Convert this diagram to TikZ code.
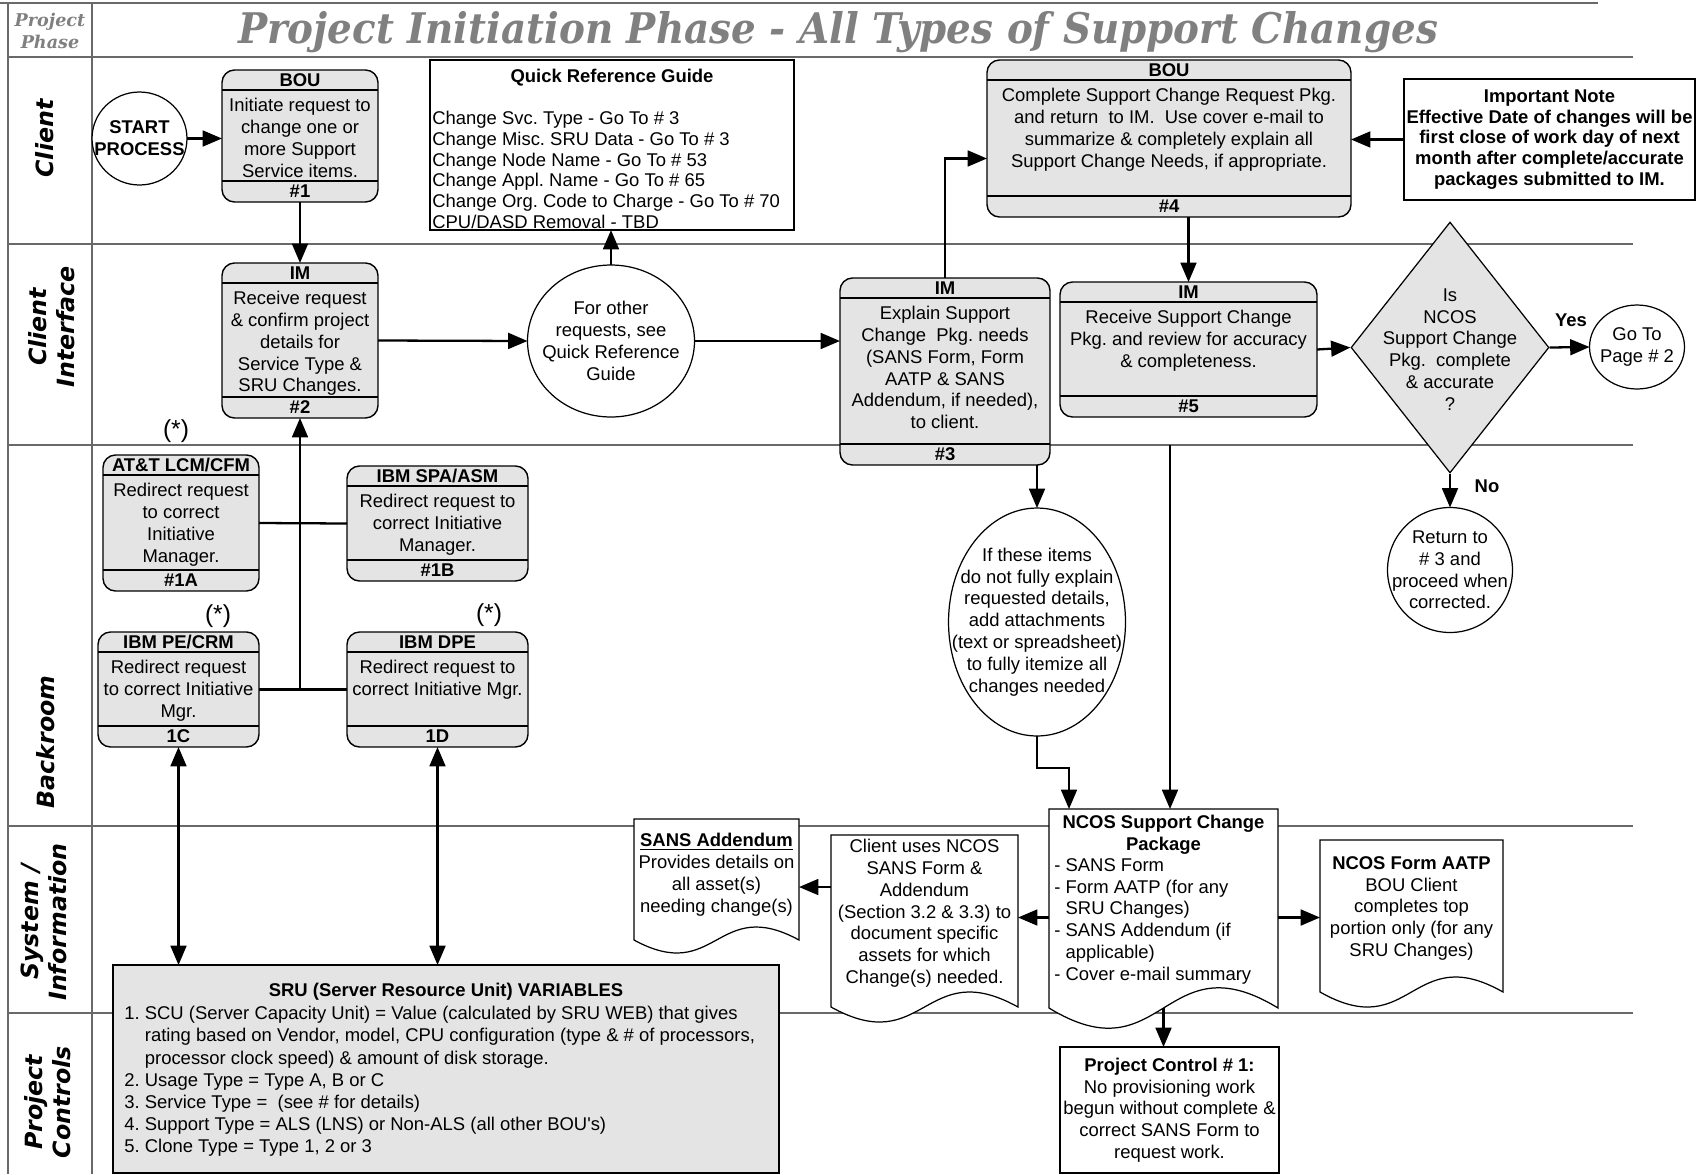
\documentclass[tikz,border=0pt]{standalone}
\usepackage{fontspec}
\setmainfont{Liberation Sans}
\newfontfamily\slabfont{DejaVu Serif}
\newfontfamily\lanefont{DejaVu Sans}[BoldFont={DejaVu Sans Bold}, ItalicFont={DejaVu Sans Oblique}, BoldItalicFont={DejaVu Sans Bold Oblique}]
\usepackage{graphicx}
\usetikzlibrary{
    positioning,
    arrows.meta,
    calc,
    shapes.geometric
}

\definecolor{boxgray}{RGB}{228,228,228}
\definecolor{titlegray}{RGB}{128,128,128}
\definecolor{lanegray}{RGB}{105,105,105}

\tikzset{
    lane/.style={lanegray, line width=0.7pt},
    txt/.style={inner sep=0pt, align=center, font=\fontsize{10.5}{12.4}\selectfont},
    boldtxt/.style={txt, font=\fontsize{10.5}{12.4}\selectfont\bfseries},
    listtxt/.style={txt, align=left, anchor=north west},
    lanelbl/.style={inner sep=0pt, align=center, rotate=90, font=\lanefont\fontsize{13.5}{16}\selectfont\bfseries\itshape},
    notemark/.style={inner sep=0pt, font=\fontsize{14}{16}\selectfont},
    procshape/.style={draw, line width=0.8pt, fill=boxgray, rounded corners=0.25cm, inner sep=0pt, outer sep=0pt},
    plainbox/.style={draw, line width=0.8pt, fill=white, inner sep=0pt, outer sep=0pt, align=center, font=\fontsize{10.5}{12.4}\selectfont},
    oval/.style={ellipse, draw, line width=0.7pt, fill=white, inner sep=0pt, outer sep=0pt},
    docshape/.style={draw, line width=0.7pt, fill=white},
    link/.style={line width=1.3pt},
    flow/.style={link, -{Triangle[length=11pt,width=9pt]}},
    flowboth/.style={link, {Triangle[length=11pt,width=9pt]}-{Triangle[length=11pt,width=9pt]}}
}

% process box: name, x1, y1, x2, y2, header, body, footer
\newcommand{\procbox}[8]{%
    \node[procshape, minimum width={(#4-#2)*0.02cm}, minimum height={(#5-#3)*0.02cm}] (#1) at ({(#2+#4)/2},{(#3+#5)/2}) {};
    \draw[line width=0.8pt] ($(#1.north west)+(0,20)$) -- ($(#1.north east)+(0,20)$);
    \draw[line width=0.8pt] ($(#1.south west)+(0,-21)$) -- ($(#1.south east)+(0,-21)$);
    \node[boldtxt] (#1-hd) at ($(#1.north)+(0,10)$) {#6};
    \node[txt, anchor=north] (#1-bd) at ($(#1.north)+(0,28)$) {#7};
    \node[boldtxt] (#1-ft) at ($(#1.south)+(0,-10.5)$) {#8};
}

% document shape: name, x1, y1, x2, bottom, wave
\newcommand{\docbox}[6]{%
    \node[inner sep=0pt, outer sep=0pt, minimum width={(#4-#2)*0.02cm}, minimum height={(#5-#3)*0.02cm}] (#1) at ({(#2+#4)/2},{(#3+#5)/2}) {};
    \draw[docshape] (#1.north west) -- (#1.north east) -- (#1.south east)
        .. controls ($(#1.south)+(0,-#6)$) and ($(#1.south)+(0,#6)$) .. (#1.south west) -- cycle;
}

\begin{document}
\frenchspacing
\begin{tikzpicture}[x=0.02cm, y=-0.02cm]
    \useasboundingbox (0,0) rectangle (1697,1174);

    % Lanes
    \draw[lane] (0,3) -- (1598,3);
    \foreach \y in {57,244,445,826,1013}
        \draw[lane] (8,\y) -- (1633,\y);
    \draw[lane] (8,3) -- (8,1174);
    \draw[lane] (92,3) -- (92,1174);

    % Title and lane names
    \node[anchor=base, inner sep=0pt, text=titlegray, font=\slabfont\fontsize{24}{28}\selectfont\bfseries\itshape] (title) at (838,43) {\resizebox{24cm}{\height}{Project Initiation Phase - All Types of Support Changes}};
    \node[inner sep=0pt, align=center, text=titlegray, font=\slabfont\fontsize{10}{12.5}\selectfont\bfseries\itshape] (phase) at (50,31) {Project\\Phase};
    \node[lanelbl] (l-client) at (45,138.5) {Client};
    \node[lanelbl] (l-cif) at (52,327) {Client\\Interface};
    \node[lanelbl] (l-back) at (46,742) {Backroom};
    \node[lanelbl] (l-sys) at (44,922) {System /\\Information};
    \node[lanelbl] (l-pc) at (48,1102) {Project\\Controls};

    % Client lane
    \node[oval, minimum width=1.9cm, minimum height=1.86cm] (start) at (139.5,138.5) {};
    \node[boldtxt] (start-txt) at (start) {START\\PROCESS};
    \procbox{b1}{222}{70}{378}{202}{BOU}{Initiate request to\\change one or\\more Support\\Service items.}{\#1}
    \node[plainbox, minimum width=7.28cm, minimum height=3.4cm] (qrg) at (612,145) {};
    \node[boldtxt] (qrg-hd) at (612,78) {Quick Reference Guide};
    \node[listtxt, font=\fontsize{10.5}{11.8}\selectfont] (qrg-bd) at (432,111) {Change Svc. Type - Go To \# 3\\Change Misc. SRU Data - Go To \# 3\\Change Node Name - Go To \# 53\\Change Appl. Name - Go To \# 65\\Change Org. Code to Charge - Go To \# 70\\CPU/DASD Removal - TBD};
    \procbox{b4}{987}{60}{1351}{217}{BOU}{Complete Support Change Request Pkg.\\and return~ to IM.~ Use cover e-mail to\\summarize \& completely explain all\\Support Change Needs, if appropriate.}{\#4}
    \node[plainbox, minimum width=5.82cm, minimum height=2.42cm, font=\fontsize{10.5}{11.8}\selectfont\bfseries] (note) at (1549.5,139.5) {Important Note\\Effective Date of changes will be\\first close of work day of next\\month after complete/accurate\\packages submitted to IM.};

    % Client interface lane
    \procbox{b2}{222}{263}{378}{418}{IM}{Receive request\\\& confirm project\\details for\\Service Type \&\\SRU Changes.}{\#2}
    \node[oval, minimum width=3.34cm, minimum height=3.04cm] (q1) at (611,341) {};
    \node[txt] (q1-txt) at (q1) {For other\\requests, see\\Quick Reference\\Guide};
    \procbox{b3}{840}{278}{1050}{465}{IM}{Explain Support\\Change~ Pkg. needs\\(SANS Form, Form\\AATP \& SANS\\Addendum, if needed),\\to client.}{\#3}
    \procbox{b5}{1060}{282}{1317}{417}{IM}{Receive Support Change\\Pkg. and review for accuracy\\\& completeness.}{\#5}
    \node[diamond, draw, line width=0.7pt, fill=boxgray, inner sep=0pt, minimum width=3.96cm, minimum height=5.02cm] (dia) at (1450,347.5) {};
    \node[txt] (dia-txt) at (1450,349.5) {Is\\NCOS\\Support Change\\Pkg.~ complete\\\& accurate\\?};
    \node[oval, minimum width=1.9cm, minimum height=1.68cm] (goto) at (1637,347) {};
    \node[txt] (goto-txt) at (goto) {Go To\\Page \# 2};
    \node[boldtxt] (yes) at (1571,320) {Yes};

    % Backroom lane
    \procbox{b1a}{103}{455}{259}{591}{AT\&T LCM/CFM}{Redirect request\\to correct\\Initiative\\Manager.}{\#1A}
    \procbox{b1b}{347}{466}{528}{581}{IBM SPA/ASM}{Redirect request to\\correct Initiative\\Manager.}{\#1B}
    \procbox{b1c}{98}{632}{259}{747}{IBM PE/CRM}{Redirect request\\to correct Initiative\\Mgr.}{1C}
    \procbox{b1d}{347}{632}{528}{747}{IBM DPE}{Redirect request to\\correct Initiative Mgr.}{1D}
    \node[notemark] (m1) at (176,431) {(*)};
    \node[notemark] (m2) at (218,616) {(*)};
    \node[notemark] (m3) at (489,615) {(*)};
    \node[oval, minimum width=3.54cm, minimum height=4.56cm] (q2) at (1037,622) {};
    \node[txt] (q2-txt) at (q2) {If these items\\do not fully explain\\requested details,\\add attachments\\(text or spreadsheet)\\to fully itemize all\\changes needed};
    \node[oval, minimum width=2.5cm, minimum height=2.5cm] (ret) at (1450,570) {};
    \node[txt] (ret-txt) at (ret) {Return to\\\# 3 and\\proceed when\\corrected.};
    \node[boldtxt] (no) at (1487,486) {No};

    % System / information lane
    \docbox{sans}{634}{819}{799}{940}{45}
    \node[txt, anchor=north] (sans-txt) at (716.5,833) {\textbf{\underline{SANS Addendum}}\\Provides details on\\all asset(s)\\needing change(s)};
    \docbox{cdoc}{831}{835}{1018}{1007}{52}
    \node[txt, anchor=north] (cdoc-txt) at (924.5,839) {Client uses NCOS\\SANS Form \&\\Addendum\\(Section 3.2 \& 3.3) to\\document specific\\assets for which\\Change(s) needed.};
    \docbox{pkg}{1049}{809}{1278}{1008}{70}
    \node[boldtxt, anchor=north] (pkg-hd) at (1163.5,815) {NCOS Support Change\\Package};
    \node[listtxt] (pkg-bd) at (1054,858) {- SANS Form\\- Form AATP (for any\\\hphantom{- }SRU Changes)\\- SANS Addendum (if\\\hphantom{- }applicable)\\- Cover e-mail summary};
    \docbox{aatp}{1320}{840}{1503}{992}{52}
    \node[txt, anchor=north] (aatp-txt) at (1411.5,856) {\textbf{NCOS Form AATP}\\BOU Client\\completes top\\portion only (for any\\SRU Changes)};

    % Project controls lane
    \node[plainbox, fill=boxgray, minimum width=13.32cm, minimum height=4.16cm] (sru) at (446,1069) {};
    \node[boldtxt] (sru-hd) at (446,992) {SRU (Server Resource Unit) VARIABLES};
    \node[listtxt, font=\fontsize{10.5}{12.6}\selectfont] (sru-bd) at (124,1006) {1. SCU (Server Capacity Unit) = Value (calculated by SRU WEB) that gives\\\hphantom{1. }rating based on Vendor, model, CPU configuration (type \& \# of processors,\\\hphantom{1. }processor clock speed) \& amount of disk storage.\\2. Usage Type = Type A, B or C\\3. Service Type =~ (see \# for details)\\4. Support Type = ALS (LNS) or Non-ALS (all other BOU\textquotesingle s)\\5. Clone Type = Type 1, 2 or 3};
    \node[plainbox, line width=1.3pt, minimum width=4.38cm, minimum height=2.52cm] (ctrl) at (1169.5,1110) {\textbf{Project Control \# 1:}\\No provisioning work\\begun without complete \&\\correct SANS Form to\\request work.};

    % Connectors
    \draw[flow] (start.east) -- (start.east -| b1.west);
    \draw[flow] (b1.south) -- (b2.north);
    \draw[flow] (b2.east) -- (q1.west);
    \draw[flow] (q1.north) -- (q1.north |- qrg.south);
    \draw[flow] (q1.east) -- (q1.east -| b3.west);
    \draw[flow] (b3.north) |- ($(b4.west)+(0,20)$);
    \draw[flow] (note.west) -- (note.west -| b4.east);
    \draw[flow] (b5.north |- b4.south) -- (b5.north);
    \draw[flow] (b5.east) -- (dia.west);
    \draw[flow] (dia.east) -- (goto.west);
    \draw[flow] (dia.south) -- (ret.north);
    \draw[flow] (q2.north |- b3.south) -- (q2.north);
    \draw[flow] (q2.south) -- ++(0,32) -| ($(pkg.north west)+(20,0)$);
    \coordinate (drop) at (1170,445);
    \draw[flow] (drop) -- (drop |- pkg.north);

    % Backroom links
    \draw[link] (b1a.east) -- (b1b.west);
    \draw[link] (b1c.east) -- (b1d.west);
    \draw[flow] (b2.south |- b1c.east) -- (b2.south);
    \draw[flowboth] (b1c.south) -- (b1c.south |- sru.north);
    \draw[flowboth] (b1d.south) -- (b1d.south |- sru.north);

    % Package links
    \coordinate (pkgL) at ([yshift=-0.18cm]pkg.west);
    \coordinate (pkgR) at ([yshift=-0.18cm]pkg.east);
    \coordinate (cdocL) at ([yshift=0.68cm]cdoc.west);
    \draw[flow] (pkgL) -- (pkgL -| cdoc.east);
    \draw[flow] (pkgR) -- (pkgR -| aatp.west);
    \draw[flow] (cdocL) -- (cdocL -| sans.east);
    \draw[flow] (pkg.south) -- (pkg.south |- ctrl.north);
\end{tikzpicture}
\end{document}
